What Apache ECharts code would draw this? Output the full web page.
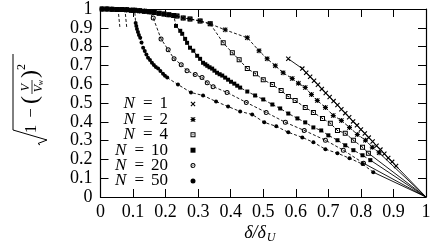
<!DOCTYPE html>
<html>
<head>
<meta charset="utf-8">
<script src="https://cdn.jsdelivr.net/npm/echarts@6/dist/echarts.min.js"></script>
<style>html,body{margin:0;padding:0;background:#fff}#c{width:436px;height:247px}</style>
</head>
<body>
<div id="c"></div>
<script>
// ---- data ----
const tickLabels = ['0','0.1','0.2','0.3','0.4','0.5','0.6','0.7','0.8','0.9','1'];
const names = ['N = 1','N = 2','N = 4','N = 10','N = 20','N = 50'];

// common upper envelope (series start on it)
const envX = [0.005,0.02,0.035,0.05,0.065,0.08,0.095,0.105,0.12,0.135,0.15,0.165,0.18,0.195,0.21,0.225,0.235,0.254,0.275,0.306,0.337,0.383,0.451];
const envY = [1.0,1.0,0.999,0.998,0.997,0.996,0.994,0.993,0.991,0.988,0.985,0.981,0.977,0.973,0.969,0.965,0.963,0.952,0.947,0.936,0.921,0.889,0.847];

// x where each series leaves the envelope (N = 1 is drawn from its own first point)
const departN1 = -1, departN2 = 0.451, departN4 = 0.337, departN10 = 0.225, departN20 = 0.15, departN50 = 0.105;

const xN1 = [0.577,0.620,0.632,0.644,0.656,0.668,0.680,0.692,0.704,0.716,0.728,0.740,0.752,0.764,0.776,0.788,0.800,0.812,0.824,0.836,0.848,0.860,0.872,0.884,0.896,0.908];
const yN1 = [0.735,0.683,0.661,0.640,0.618,0.597,0.575,0.553,0.532,0.510,0.489,0.467,0.446,0.424,0.402,0.381,0.359,0.338,0.316,0.295,0.273,0.252,0.230,0.208,0.187,0.165];

const xN2 = [0.487,0.512,0.537,0.561,0.589,0.608,0.629,0.648,0.666,0.691,0.715,0.740,0.765,0.789,0.814,0.835,0.856];
const yN2 = [0.778,0.735,0.698,0.661,0.630,0.605,0.582,0.545,0.513,0.476,0.434,0.407,0.370,0.333,0.302,0.265,0.235];

const xN4 = [0.377,0.405,0.426,0.451,0.476,0.500,0.528,0.555,0.577,0.598,0.629,0.654,0.682,0.706,0.728,0.752,0.777,0.805,0.823];
const yN4 = [0.820,0.767,0.730,0.683,0.656,0.624,0.598,0.566,0.534,0.513,0.476,0.450,0.418,0.392,0.354,0.339,0.302,0.265,0.233];

const xN10 = [0.232,0.245,0.251,0.260,0.266,0.275,0.285,0.297,0.306,0.315,0.322,0.328,0.335,0.343,0.350,0.358,0.366,0.374,0.383,0.392,0.401,0.411,0.420,0.429,0.451,0.475,0.500,0.528,0.552,0.577,0.605,0.629,0.654,0.678,0.700,0.728,0.752,0.777,0.805,0.829];
const yN10 = [0.910,0.884,0.868,0.841,0.820,0.794,0.778,0.751,0.735,0.714,0.706,0.698,0.690,0.683,0.672,0.661,0.653,0.646,0.635,0.624,0.613,0.603,0.592,0.582,0.561,0.540,0.519,0.492,0.471,0.444,0.418,0.397,0.370,0.354,0.328,0.302,0.275,0.249,0.222,0.196];

const xN20 = [0.162,0.186,0.208,0.226,0.248,0.266,0.291,0.312,0.328,0.346,0.389,0.448,0.509,0.568,0.626,0.691,0.746,0.808];
const yN20 = [0.952,0.841,0.783,0.735,0.704,0.672,0.651,0.635,0.608,0.587,0.556,0.503,0.450,0.397,0.354,0.302,0.249,0.180];

const xN50 = [0.108,0.110,0.112,0.115,0.118,0.122,0.126,0.131,0.136,0.141,0.146,0.152,0.158,0.164,0.170,0.177,0.184,0.192,0.198,0.205,0.238,0.278,0.315,0.355,0.392,0.429,0.466,0.503,0.540,0.577,0.620,0.654,0.691,0.728,0.765,0.805,0.838];
const yN50 = [0.926,0.910,0.894,0.878,0.862,0.847,0.822,0.794,0.776,0.758,0.741,0.729,0.714,0.702,0.692,0.683,0.670,0.656,0.645,0.635,0.598,0.556,0.540,0.508,0.481,0.455,0.439,0.397,0.376,0.344,0.317,0.291,0.254,0.233,0.206,0.175,0.132];

// every curve ends at this point
const endX = 1, endY = 0;

// two short dashed drops near the top-left
const dashAX = [0.054,0.060], dashAY = [1.0,0.894];
const dashBX = [0.075,0.081], dashBY = [1.0,0.894];

// ---- styling ----
const FONT = '"Liberation Serif", serif';
const SYM = {
  cross: 'path://M0,1.6 L1.6,0 L10,8.4 L8.4,10 Z M8.4,0 L10,1.6 L1.6,10 L0,8.4 Z',
  star: 'path://M4,0 L6,0 L6,10 L4,10 Z M0,4 L10,4 L10,6 L0,6 Z M0,1.4 L1.4,0 L10,8.6 L8.6,10 Z M8.6,0 L10,1.4 L1.4,10 L0,8.6 Z',
  sq: 'path://M0,0 L10,0 L10,10 L0,10 Z M2,2 L2,8 L8,8 L8,2 Z M4,4 L6,4 L6,6 L4,6 Z',
  fsq: 'rect',
  ring: 'path://M5,0 A5,5 0 1,1 4.99,0 Z M5,2 A3,3 0 1,0 5.01,2 Z M5,4 A1,1 0 1,1 4.99,4 Z',
  dot: 'circle'
};
const sets = [
  {xs:xN1, ys:yN1, cut:departN1, sym:SYM.cross, size:5, dash:'solid'},
  {xs:xN2, ys:yN2, cut:departN2, sym:SYM.star, size:5, dash:[3,2]},
  {xs:xN4, ys:yN4, cut:departN4, sym:SYM.sq, size:5, dash:[3,2]},
  {xs:xN10, ys:yN10, cut:departN10, sym:SYM.fsq, size:4, dash:[3,2]},
  {xs:xN20, ys:yN20, cut:departN20, sym:SYM.ring, size:5, dash:[3,2]},
  {xs:xN50, ys:yN50, cut:departN50, sym:SYM.dot, size:4, dash:[3,2]}
];

function buildPts(s) {
  const pts = [];
  envX.forEach((x, i) => { if (x <= s.cut + 1e-9) pts.push([x, envY[i]]); });
  s.xs.forEach((x, i) => pts.push([x, s.ys[i]]));
  return pts;
}

const series = [];
sets.forEach((s, k) => {
  const pts = buildPts(s);
  series.push({
    name: names[k], type: 'line', data: pts, symbol: s.sym, symbolSize: s.size, symbolKeepAspect: true,
    showSymbol: true, itemStyle: {color: '#000'}, lineStyle: {color: '#000', width: 0.9, type: s.dash},
    emphasis: {disabled: true}, animation: false, clip: false, z: 3
  });
  const last = pts[pts.length - 1];
  series.push({
    name: 'tail' + k, type: 'line', data: [last, [endX, endY]], symbol: 'none',
    lineStyle: {color: '#000', width: 0.9, type: 'solid'}, emphasis: {disabled: true}, animation: false, z: 2
  });
});
[[dashAX, dashAY], [dashBX, dashBY]].forEach((d, k) => {
  series.push({
    name: 'drop' + k, type: 'line', data: d[0].map((x, i) => [x, d[1][i]]), symbol: 'none',
    lineStyle: {color: '#000', width: 0.9, type: [3, 2]}, emphasis: {disabled: true}, animation: false, clip: false
  });
});

const legendIcons = [SYM.cross, SYM.star, SYM.sq, SYM.fsq, SYM.ring, SYM.dot];

function axisCommon(showLabel, margin) {
  return {
    type: 'value', min: 0, max: 1, interval: 0.1,
    axisLine: {show: true, onZero: false, lineStyle: {color: '#000', width: 1.2}},
    axisTick: {show: true, inside: true, length: 8, lineStyle: {color: '#000', width: 1}},
    splitLine: {show: false},
    axisLabel: {show: showLabel, margin: margin, color: '#000', fontFamily: FONT, fontSize: 18,
      formatter: v => tickLabels[Math.round(v * 10)]}
  };
}
const xBottom = Object.assign(axisCommon(true, 6), {position: 'bottom'});
const xTop = Object.assign(axisCommon(false, 6), {position: 'top'});
const yLeft = Object.assign(axisCommon(true, 8), {position: 'left'});
const yRight = Object.assign(axisCommon(false, 8), {position: 'right'});

const tf = (t, size, style) => ({text: t, font: (style || '') + ' ' + size + 'px ' + FONT, fill: '#000',
  align: 'center', textAlign: 'center', verticalAlign: 'middle', textVerticalAlign: 'middle'});

// one legend box per entry, stacked 15.4 px apart
const legendCenters0 = 103, legendPitch = 15.4;
const legends = names.map((n, i) => ({
  orient: 'vertical', align: 'right', right: 240.5, top: legendCenters0 + i * legendPitch - 7.5,
  padding: 0, itemWidth: 5, itemHeight: 5, selectedMode: false,
  data: [{name: n, icon: legendIcons[i], itemStyle: {color: '#000', borderWidth: 0}}],
  formatter: nm => '{i|N}{e|=}{r|' + nm.split('= ')[1] + '}',
  textStyle: {
    padding: [0, 17.5, 0, 0], lineHeight: 15, color: '#000', fontFamily: FONT, fontSize: 17,
    rich: {
      i: {fontFamily: FONT, fontSize: 17, fontStyle: 'italic', lineHeight: 15, color: '#000'},
      e: {fontFamily: FONT, fontSize: 17, lineHeight: 15, padding: [0, 7, 0, 8], color: '#000'},
      r: {fontFamily: FONT, fontSize: 17, lineHeight: 15, color: '#000'}
    }
  }
}));

const option = {
  animation: false,
  backgroundColor: '#fff',
  grid: {left: 100.5, right: 10, top: 8, bottom: 50},
  xAxis: [xBottom, xTop],
  yAxis: [yLeft, yRight],
  legend: legends,
  graphic: [
    {type: 'group', x: 32, y: 100, rotation: Math.PI / 2, silent: true, children: [
      {type: 'polyline', shape: {points: [[-45, 8], [-43.5, 6], [-40, 15], [-30, -19], [46, -19]]},
        style: {stroke: '#000', lineWidth: 1, fill: 'none'}},
      {type: 'text', x: -29, y: 0, style: tf('1', 17)},
      {type: 'text', x: -13, y: 0, style: tf('\u2212', 17)},
      {type: 'text', x: 0, y: -1, style: tf('(', 24)},
      {type: 'text', x: 12.5, y: -6, style: tf('V', 12, 'italic')},
      {type: 'line', shape: {x1: 6, y1: 0, x2: 20, y2: 0}, style: {stroke: '#000', lineWidth: 0.8}},
      {type: 'text', x: 11.5, y: 6.5, style: tf('V', 12, 'italic')},
      {type: 'text', x: 17.5, y: 9, style: tf('w', 8, 'italic')},
      {type: 'text', x: 26, y: -1, style: tf(')', 24)},
      {type: 'text', x: 33, y: -10, style: tf('2', 12)}
    ]},
    {type: 'text', x: 255, y: 233, silent: true, style: tf('\u03b4/\u03b4', 18, 'italic')},
    {type: 'text', x: 271, y: 238, silent: true, style: tf('U', 12, 'italic')}
  ],
  series: series
};

const chart = echarts.init(document.getElementById('c'), null, {renderer: 'canvas'});
chart.setOption(option);
</script>
</body>
</html>
